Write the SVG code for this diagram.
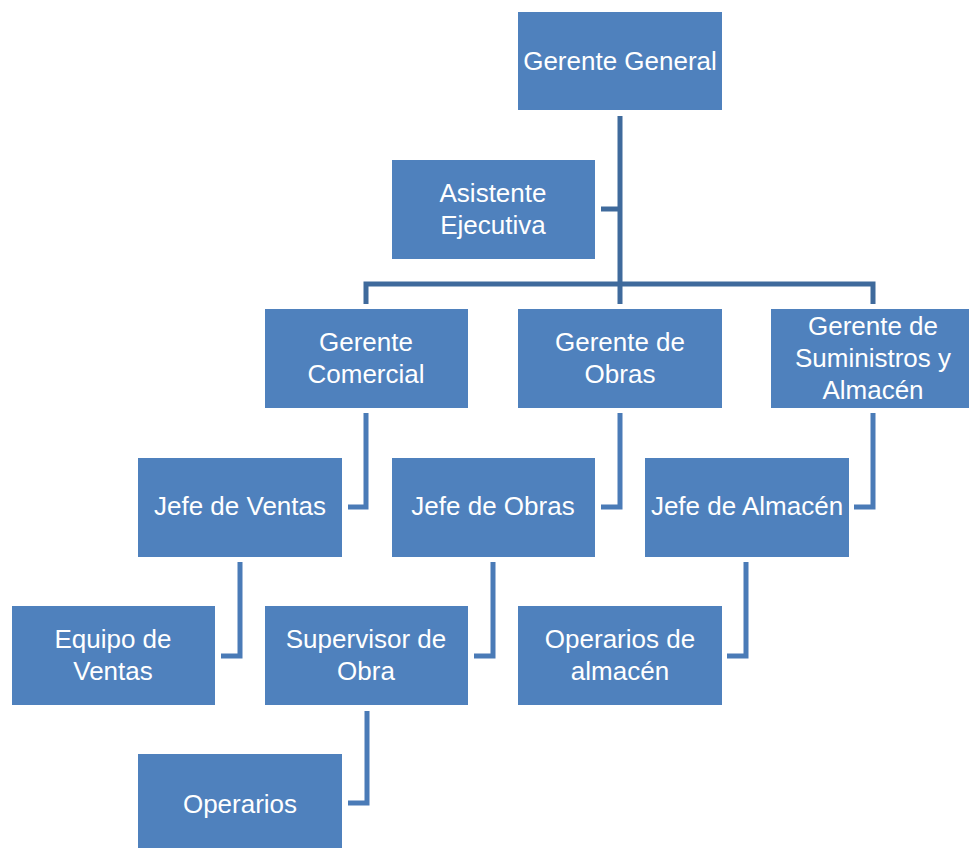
<svg xmlns="http://www.w3.org/2000/svg" width="969" height="848" viewBox="0 0 969 848">
<style>
.box{fill:#4F81BD;}
.t{font-family:"Liberation Sans","Open Sans",sans-serif;font-size:26px;fill:#FFFFFF;text-anchor:middle;dominant-baseline:central;}
.c{fill:none;stroke:#3F6A9C;stroke-width:5;stroke-linejoin:miter;stroke-linecap:butt;}
.c2{fill:none;stroke:#4A7BB7;stroke-width:5;stroke-linejoin:miter;stroke-linecap:butt;}
</style>
<rect width="969" height="848" fill="#FFFFFF"/>
<g id="connectors">
<path class="c" d="M620,116 V304"/>
<path class="c" d="M601,209 H620"/>
<path class="c" d="M366,304 V284 H873 V304"/>
<path class="c2" d="M366,413 V507 H348"/>
<path class="c2" d="M620,413 V507 H601"/>
<path class="c2" d="M873,413 V507 H854"/>
<path class="c2" d="M240,562 V656 H221"/>
<path class="c2" d="M493,562 V656 H474"/>
<path class="c2" d="M746,562 V656 H727"/>
<path class="c2" d="M367,711 V803 H348"/>
</g>
<g id="gerente-general"><rect class="box" x="518" y="12" width="204" height="98"/><text class="t" x="620" y="61">Gerente General</text></g>
<g id="asistente-ejecutiva"><rect class="box" x="392" y="160" width="203" height="99"/><text class="t" x="493" y="193">Asistente</text><text class="t" x="493" y="225">Ejecutiva</text></g>
<g id="gerente-comercial"><rect class="box" x="265" y="309" width="203" height="99"/><text class="t" x="366" y="342">Gerente</text><text class="t" x="366" y="374">Comercial</text></g>
<g id="gerente-obras"><rect class="box" x="518" y="309" width="204" height="99"/><text class="t" x="620" y="342">Gerente de</text><text class="t" x="620" y="374">Obras</text></g>
<g id="gerente-suministros"><rect class="box" x="771" y="309" width="198" height="99"/><text class="t" x="873" y="326">Gerente de</text><text class="t" x="873" y="358">Suministros y</text><text class="t" x="873" y="390">Almacén</text></g>
<g id="jefe-ventas"><rect class="box" x="138" y="458" width="204" height="99"/><text class="t" x="240" y="506">Jefe de Ventas</text></g>
<g id="jefe-obras"><rect class="box" x="392" y="458" width="203" height="99"/><text class="t" x="493" y="506">Jefe de Obras</text></g>
<g id="jefe-almacen"><rect class="box" x="645" y="458" width="204" height="99"/><text class="t" x="747" y="506">Jefe de Almacén</text></g>
<g id="equipo-ventas"><rect class="box" x="12" y="606" width="203" height="99"/><text class="t" x="113" y="639">Equipo de</text><text class="t" x="113" y="671">Ventas</text></g>
<g id="supervisor-obra"><rect class="box" x="265" y="606" width="203" height="99"/><text class="t" x="366" y="639">Supervisor de</text><text class="t" x="366" y="671">Obra</text></g>
<g id="operarios-almacen"><rect class="box" x="518" y="606" width="204" height="99"/><text class="t" x="620" y="639">Operarios de</text><text class="t" x="620" y="671">almacén</text></g>
<g id="operarios"><rect class="box" x="138" y="754" width="204" height="94"/><text class="t" x="240" y="804">Operarios</text></g>
</svg>
